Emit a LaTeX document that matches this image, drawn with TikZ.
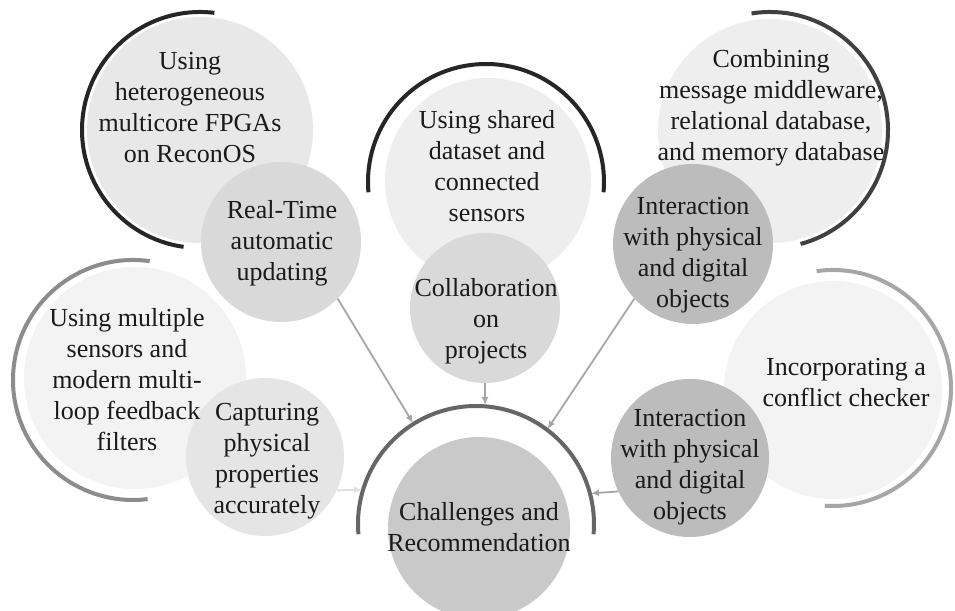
\documentclass[tikz,border=0pt]{standalone}
\usepackage{fontspec}
\setmainfont{Liberation Serif}
\usetikzlibrary{arrows.meta,calc}

\definecolor{txt}{HTML}{1A1A1A}
\definecolor{arcA}{HTML}{262626}
\definecolor{arcB}{HTML}{404040}
\definecolor{arcC}{HTML}{8C8C8C}
\definecolor{arcD}{HTML}{A6A6A6}
\definecolor{arcE}{HTML}{666666}
\definecolor{fillXL}{HTML}{F3F3F3}
\definecolor{fillL}{HTML}{EEEEEE}
\definecolor{fillTL}{HTML}{E8E8E8}
\definecolor{fillCP}{HTML}{E5E5E5}
\definecolor{fillM}{HTML}{D9D9D9}
\definecolor{fillCH}{HTML}{C9C9C9}
\definecolor{fillD}{HTML}{BCBCBC}
\definecolor{arrowc}{HTML}{A6A6A6}
\definecolor{arrowl}{HTML}{E0E0E0}

\tikzset{
  bubble/.style={circle, draw=none, inner sep=0pt, minimum size=#1},
  label text/.style={align=center, inner sep=0pt, text=txt,
    font=\fontsize{26}{31}\selectfont},
  ring/.style={line width=4pt, line cap=butt, draw=#1},
  link/.style={line width=1.8pt, draw=#1,
    -{Latex[length=8pt,width=7pt]}, shorten >=1pt},
}

\begin{document}
\begin{tikzpicture}[x=1pt,y=1pt]
  \useasboundingbox (0,0) rectangle (955,610);
  \clip (0,0) rectangle (955,610);
  \fill[white] (0,0) rectangle (955,610);

  % centres of the outer rings
  \coordinate (tlc) at (200,480);
  \coordinate (sdc) at (486,428);
  \coordinate (cmc) at (770,480);
  \coordinate (lmc) at (133,230);
  \coordinate (icc) at (833,222);
  \coordinate (chc) at (476,86);

  % outer rings
  \draw[ring=arcA] (tlc) ++(83:118) arc[start angle=83, end angle=262, radius=118];
  \draw[ring=arcA] (sdc) ++(185:118) arc[start angle=185, end angle=-5, radius=118];
  \draw[ring=arcB] (cmc) ++(99:118) arc[start angle=99, end angle=-75, radius=118];
  \draw[ring=arcC] (lmc) ++(82:120) arc[start angle=82, end angle=277, radius=120];
  \draw[ring=arcD] (icc) ++(98:118) arc[start angle=98, end angle=-94, radius=118];
  \draw[ring=arcE] (chc) ++(185:118) arc[start angle=185, end angle=-5, radius=118];

  % large background bubbles
  \node[bubble=226pt, fill=fillTL] (tl) at (200,480) {};
  \node[bubble=206pt, fill=fillL]  (sd) at (488,429) {};
  \node[bubble=224pt, fill=fillL]  (cm) at (770,479) {};
  \node[bubble=222pt, fill=fillXL] (lm) at (135,232) {};
  \node[bubble=218pt, fill=fillXL] (ic) at (833,220) {};

  % small foreground bubbles
  \node[bubble=160pt, fill=fillM]  (rt) at (281,368) {};
  \node[bubble=150pt, fill=fillM]  (co) at (485,302) {};
  \node[bubble=160pt, fill=fillD]  (ia) at (693,366) {};
  \node[bubble=158pt, fill=fillCP] (cp) at (265,153) {};
  \node[bubble=158pt, fill=fillD]  (ib) at (690,152) {};
  \node[bubble=182pt, fill=fillCH] (ch) at (479,82) {};

  % arrow targets on the lower ring
  \coordinate (tA) at ($(chc)+(122:118)$);
  \coordinate (tB) at (485,204);
  \coordinate (tC) at ($(chc)+(53:118)$);
  \coordinate (tD) at ($(chc)+(15:118)$);
  \coordinate (tE) at ($(chc)+(163:118)$);

  % connectors
  \draw[link=arrowc] (rt.-45) -- (tA);
  \draw[link=arrowc] (co.south) -- (tB);
  \draw[link=arrowc] (ia.223) -- (tC);
  \draw[link=arrowl] (cp.-25) -- (tE);
  \draw[link=arrowc] (ib.205) -- (tD);

  % texts
  \node[label text] (tl-t) at (190,502) {Using\\heterogeneous\\multicore FPGAs\\on ReconOS};
  \node[label text] (rt-t) at (282,367) {Real-Time\\automatic\\updating};
  \node[label text] (sd-t) at (487,444) {Using shared\\dataset and\\connected\\sensors};
  \node[label text] (co-t) at (486,289) {Collaboration\\on\\projects};
  \node[label text] (cm-t) at (771,502) {Combining\\message middleware,\\relational database,\\and memory database};
  \node[label text] (ia-t) at (693,355) {Interaction\\with physical\\and digital\\objects};
  \node[label text] (lm-t) at (127,230) {Using multiple\\sensors and\\modern multi-\\loop feedback\\filters};
  \node[label text] (cp-t) at (267,149) {Capturing\\physical\\properties\\accurately};
  \node[label text] (ic-t) at (846,227) {Incorporating a\\conflict checker};
  \node[label text] (ib-t) at (690,143) {Interaction\\with physical\\and digital\\objects};
  \node[label text] (ch-t) at (479,83) {Challenges and\\Recommendation};
\end{tikzpicture}
\end{document}
